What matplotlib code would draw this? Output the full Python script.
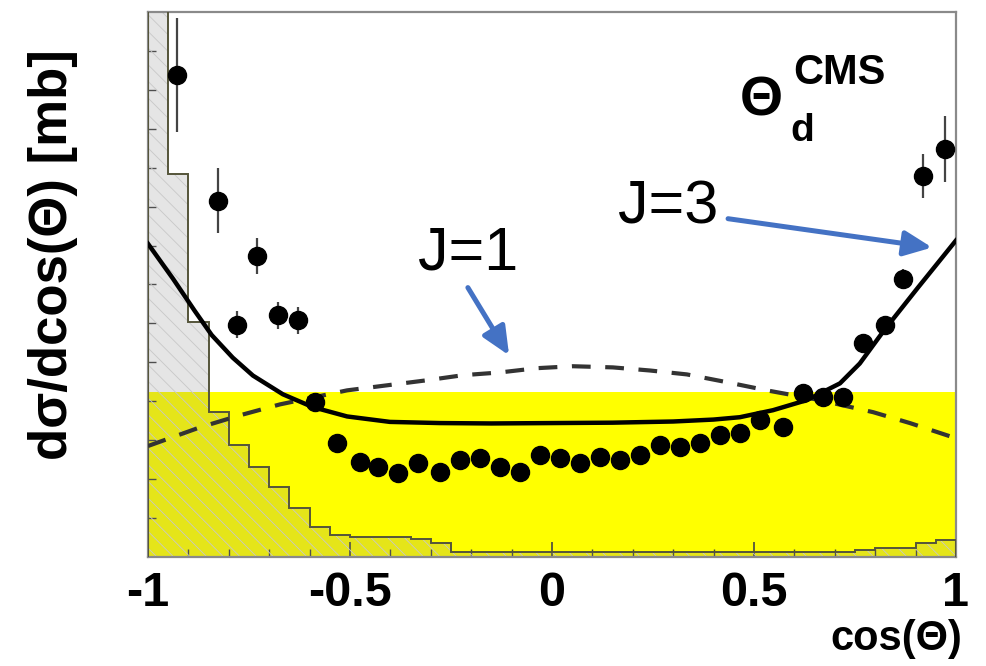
import numpy as np
import matplotlib
matplotlib.use("Agg")
import matplotlib.pyplot as plt

# measured points: cos(theta) vs dsigma/dcos (arbitrary mb scale)
cos_data = [-0.928, -0.827, -0.730, -0.780, -0.678, -0.629, -0.587, -0.532, -0.475, -0.431,
            -0.381, -0.332, -0.277, -0.228, -0.178, -0.129, -0.079, -0.030, 0.020, 0.069,
            0.119, 0.168, 0.218, 0.267, 0.317, 0.366, 0.416, 0.465, 0.515, 0.572,
            0.621, 0.671, 0.720, 0.770, 0.824, 0.869, 0.918, 0.973]
xsec_data = [1.238, 0.915, 0.774, 0.597, 0.621, 0.608, 0.397, 0.292, 0.244, 0.231,
             0.215, 0.241, 0.218, 0.249, 0.254, 0.231, 0.218, 0.262, 0.254, 0.241,
             0.256, 0.249, 0.262, 0.287, 0.282, 0.292, 0.313, 0.318, 0.351, 0.333,
             0.421, 0.410, 0.410, 0.549, 0.595, 0.715, 0.979, 1.049]
xsec_err = [0.146, 0.083, 0.046, 0.035, 0.035, 0.035, 0.015, 0.015, 0.015, 0.015,
            0.015, 0.015, 0.015, 0.015, 0.015, 0.015, 0.015, 0.015, 0.015, 0.015,
            0.015, 0.015, 0.015, 0.015, 0.015, 0.015, 0.015, 0.015, 0.015, 0.015,
            0.015, 0.015, 0.015, 0.020, 0.020, 0.025, 0.056, 0.085]

# J=3 (solid) and J=1 (dashed) expectations
j3_cos = [-1.0, -0.938, -0.884, -0.842, -0.79, -0.740, -0.666, -0.592, -0.507, -0.401,
          -0.277, -0.15, 0.0, 0.15, 0.30, 0.40, 0.465, 0.547, 0.631, 0.713,
          0.762, 0.822, 0.906, 1.0]
j3_xsec = [0.805, 0.715, 0.632, 0.570, 0.512, 0.466, 0.418, 0.385, 0.361, 0.347,
           0.344, 0.343, 0.344, 0.345, 0.348, 0.353, 0.359, 0.377, 0.403, 0.446,
           0.497, 0.582, 0.692, 0.813]
j1_cos = [-1.0, -0.871, -0.772, -0.673, -0.507, -0.408, -0.309, -0.220, -0.129, -0.037,
          0.052, 0.151, 0.243, 0.334, 0.433, 0.532, 0.663, 0.795, 0.886, 1.0]
j1_xsec = [0.285, 0.333, 0.364, 0.392, 0.428, 0.441, 0.454, 0.467, 0.474, 0.485,
           0.490, 0.487, 0.479, 0.469, 0.449, 0.428, 0.403, 0.372, 0.344, 0.305]

# systematic band (yellow)
band_cos = [-1.0, 1.0]
band_top = [0.425, 0.425]

# background histogram, 40 bins of 0.05
bkg_vals = [1.50, 0.985, 0.603, 0.372, 0.287, 0.231, 0.179, 0.126, 0.077, 0.056,
            0.051, 0.051, 0.051, 0.046, 0.036, 0.013, 0.013, 0.013, 0.013, 0.013,
            0.013, 0.013, 0.013, 0.013, 0.013, 0.013, 0.013, 0.013, 0.013, 0.013,
            0.013, 0.013, 0.013, 0.013, 0.013, 0.018, 0.023, 0.023, 0.036, 0.044]
bkg_edges = np.linspace(-1, 1, len(bkg_vals) + 1)

plt.rcParams["font.family"] = ["Liberation Sans", "DejaVu Sans"]
plt.rcParams["hatch.color"] = "#c8c8c8"
plt.rcParams["hatch.linewidth"] = 0.6

fig = plt.figure(figsize=(9.86, 6.66), dpi=100)
ax = fig.add_axes([0.150, 0.1637, 0.8195, 0.8183])

ax.fill_between(band_cos, 0, band_top, color="#ffff00", lw=0, zorder=1)
ax.stairs(bkg_vals, bkg_edges, fill=True, facecolor=(0.5, 0.5, 0.5, 0.2),
          hatch="\\\\", linewidth=0, zorder=2)
ax.stairs(bkg_vals, bkg_edges, color="#55553a", lw=1.4, zorder=3)

ax.plot(j1_cos, j1_xsec, color="#333333", lw=3, dashes=(4.5, 3.5), zorder=4)
ax.plot(j3_cos, j3_xsec, color="black", lw=3.2, zorder=5)
ax.errorbar(cos_data, xsec_data, yerr=xsec_err, fmt="o", color="black", ms=13,
            ecolor="#444444", elinewidth=1.6, capsize=0, zorder=6)

ax.set_xlim(-1, 1)
ax.set_ylim(0, 1.4)
ax.set_xticks([-1, -0.5, 0, 0.5, 1])
ax.set_xticklabels(["-1", "-0.5", "0", "0.5", "1"], fontsize=35, fontweight="bold")
ax.set_xticks(np.arange(-1, 1.01, 0.1), minor=True)
ax.set_yticks(np.arange(0.1, 1.4, 0.1))
ax.set_yticklabels([])
ax.tick_params(axis="x", which="major", direction="in", length=11, width=1.2,
               color="#444444", pad=10)
ax.tick_params(axis="x", which="minor", direction="in", length=6, width=1.0, color="#444444")
ax.tick_params(axis="y", direction="in", length=6, width=1.0, color="#444444")
for s in ax.spines.values():
    s.set_color("#8a8a8a"); s.set_linewidth(1.6)

# annotations
blue = "#4472c4"
ax.text(-0.332, 0.738, "J=1", fontsize=44, ha="left", va="baseline")
ax.text(0.163, 0.856, "J=3", fontsize=44, ha="left", va="baseline")
ax.annotate("", xy=(-0.106, 0.518), xytext=(-0.208, 0.692),
            arrowprops=dict(arrowstyle="-|>,head_length=1.0,head_width=0.45", color=blue,
                            lw=3.6, mutation_scale=17, shrinkA=0, shrinkB=0))
ax.annotate("", xy=(0.941, 0.795), xytext=(0.436, 0.869),
            arrowprops=dict(arrowstyle="-|>,head_length=1.0,head_width=0.45", color=blue,
                            lw=3.6, mutation_scale=17, shrinkA=0, shrinkB=0))

ax.text(0.465, 1.133, "Θ", fontsize=40, fontweight="bold", va="baseline")
ax.text(0.597, 1.215, "CMS", fontsize=30, fontweight="bold", va="baseline")
ax.text(0.589, 1.069, "d", fontsize=28, fontweight="bold", va="baseline")

fig.text(53 / 986, 1 - 255 / 666, "dσ/dcos(Θ) [mb]", rotation=90, fontsize=38,
         fontweight="bold", ha="center", va="center")
fig.text(962 / 986, 1 - 650 / 666, "cos(Θ)", fontsize=30, fontweight="bold",
         ha="right", va="baseline")

fig.savefig("out.png", dpi=100)
